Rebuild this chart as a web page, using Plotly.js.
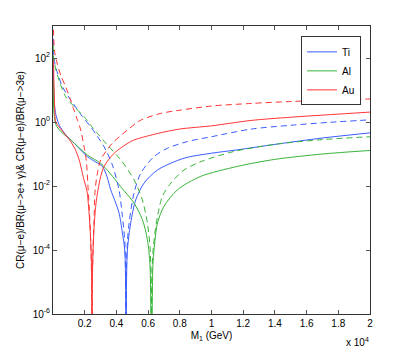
<!DOCTYPE html>
<html>
<head>
<meta charset="utf-8">
<script src="https://cdn.plot.ly/plotly-3.0.1.min.js"></script>
<style>html,body{margin:0;padding:0;background:#fff;}#plot{width:409px;height:354px;}</style>
</head>
<body>
<div id="plot"></div>
<script>
// Ti (blue)
var tiSolidX = [20,63,150,400,800,1250,1700,2170,2700,3117,3400,3640,3900,4165,4380,4525,4580,4606,4640,4695,4900,5220,5745,6590,8270,9950,11640,14000,17000,20000];
var tiSolidY = [63,6.2,2.0,0.79,0.40,0.24,0.141,0.083,0.056,0.041,0.02,7.6e-3,3.5e-3,1.45e-3,3.4e-4,1e-4,1e-5,1e-9,1e-5,1e-4,6.9e-4,3.7e-3,0.0123,0.0316,0.074,0.105,0.135,0.2,0.316,0.457];
var tiDashX = [20,63,300,600,1117,1855,2380,2800,3220,3750,4165,4380,4525,4570,4606,4640,4700,4800,5110,5535,6375,7220,8480,10000,12500,15000,17500,20000];
var tiDashY = [398,95,31.6,12.6,4.9,1.48,0.708,0.355,0.17,0.045,7.6e-3,1.12e-3,2.1e-4,3.2e-5,1e-9,3.2e-5,2e-4,6.9e-4,6e-3,0.025,0.083,0.151,0.245,0.347,0.6,0.79,0.98,1.17];
// Al (green)
var alSolidX = [20,63,200,500,1117,2170,3010,3600,4270,5110,5640,5955,6120,6210,6300,6375,6590,7000,7850,9320,11640,14000,17000,20000];
var alSolidY = [20,1.86,0.79,0.5,0.275,0.093,0.051,0.025,9.5e-3,2.95e-3,8.9e-4,2.1e-4,3.2e-5,1e-9,3.2e-5,1e-4,6.9e-4,2.3e-3,7.6e-3,0.02,0.041,0.068,0.1,0.129];
var alDashX = [20,63,380,800,1400,1956,2380,2800,3220,3530,4270,5110,5640,5955,6120,6180,6210,6240,6335,6590,6900,7430,8270,9320,11420,14000,17000,20000];
var alDashY = [251,79,20.4,6.2,2.8,1.48,0.79,0.447,0.251,0.17,0.066,0.0158,3.7e-3,6.9e-4,1.3e-4,1.6e-5,1e-9,1.6e-5,1.3e-4,1.12e-3,4.7e-3,0.0123,0.0316,0.0575,0.12,0.2,0.282,0.347];
// Au (red)
var auSolidX = [30,60,100,170,380,700,1100,1400,1650,1950,2130,2270,2370,2420,2445,2460,2475,2510,2580,2700,2840,3010,3220,3850,4900,5300,6600,8000,10000,12500,15000,17500,20000];
var auSolidY = [100,15.8,3.16,1,0.708,0.447,0.251,0.141,0.066,0.0158,7.6e-3,1.58e-3,2.5e-4,5e-5,6.3e-6,1e-9,6.3e-6,5e-5,4e-4,2.5e-3,7.6e-3,0.02,0.0407,0.105,0.245,0.295,0.437,0.603,0.759,1.12,1.41,1.70,2.04];
var auDashX = [20,50,100,280,500,800,1100,1325,1550,1750,1960,2100,2220,2320,2395,2435,2460,2485,2525,2580,2660,2800,3010,3750,4700,5500,6800,8000,10000,12500,15000,17500,20000];
var auDashY = [1585,398,158,63,28,12.6,5.0,2.34,1.12,0.562,0.17,0.063,7.6e-3,1e-3,1e-4,1e-5,1e-9,1e-5,1e-4,6.3e-4,7.6e-3,0.025,0.066,0.219,0.562,1.12,1.86,2.34,3.16,3.8,4.37,4.79,5.25];

var names = ['Ti','Al','Au'];
var colors = ['#3a5cff','#38b438','#ff3434'];
var xTickVals = [2000,4000,6000,8000,10000,12000,14000,16000,18000,20000];
var xTickText = ['0.2','0.4','0.6','0.8','1','1.2','1.4','1.6','1.8','2'];
var yTickVals = [1e-6,1e-4,1e-2,1,1e2];
var yTickText = ['10<sup>-6</sup>','10<sup>-4</sup>','10<sup>-2</sup>','10<sup>0</sup>','10<sup>2</sup>'];

var dashStyle = '6px,4px';
var traces = [
  {x: tiSolidX, y: tiSolidY, name: names[0], line:{color:colors[0], width:1}},
  {x: alSolidX, y: alSolidY, name: names[1], line:{color:colors[1], width:1}},
  {x: auSolidX, y: auSolidY, name: names[2], line:{color:colors[2], width:1}},
  {x: tiDashX, y: tiDashY, name: names[0], showlegend:false, line:{color:colors[0], width:1, dash:dashStyle}},
  {x: alDashX, y: alDashY, name: names[1], showlegend:false, line:{color:colors[1], width:1, dash:dashStyle}},
  {x: auDashX, y: auDashY, name: names[2], showlegend:false, line:{color:colors[2], width:1, dash:dashStyle}}
];
traces.forEach(function(t){ t.type='scatter'; t.mode='lines'; t.hoverinfo='skip'; t.line.shape='spline'; t.line.smoothing=0.8; });

var axisCommon = {showline:true, linecolor:'#333', linewidth:1, mirror:'ticks', ticks:'inside', ticklen:4, tickcolor:'#555', showgrid:false, zeroline:false};
var layout = {
  width:409, height:354,
  margin:{l:53, r:39, t:26, b:40, pad:0},
  paper_bgcolor:'#fff', plot_bgcolor:'#fff',
  font:{family:'Liberation Sans, Arial, sans-serif', size:10, color:'#000'},
  showlegend:true,
  legend:{x:0.9716, y:0.964, xanchor:'right', yanchor:'top', bgcolor:'#fff', bordercolor:'#333', borderwidth:1, font:{size:10}, tracegroupgap:0, itemwidth:30},
  xaxis: Object.assign({}, axisCommon, {range:[0,20000], tickmode:'array', tickvals:xTickVals, ticktext:xTickText,
    title:{text:'M<sub>1</sub> (GeV)', standoff:3, font:{size:10}}}),
  yaxis: Object.assign({}, axisCommon, {type:'log', range:[-6,3], tickmode:'array', tickvals:yTickVals, ticktext:yTickText,
    title:{text:'CR(μ−e)/BR(μ−>e+ γ)& CR(μ−e)/BR(μ−>3e)', standoff:6, font:{size:10}}}),
  annotations:[{text:'x 10<sup>4</sup>', xref:'paper', yref:'paper', x:0.962, y:-0.097, xanchor:'center', yanchor:'middle', showarrow:false, font:{size:10}}]
};
Plotly.newPlot('plot', traces, layout, {staticPlot:true, displayModeBar:false});
</script>
</body>
</html>
